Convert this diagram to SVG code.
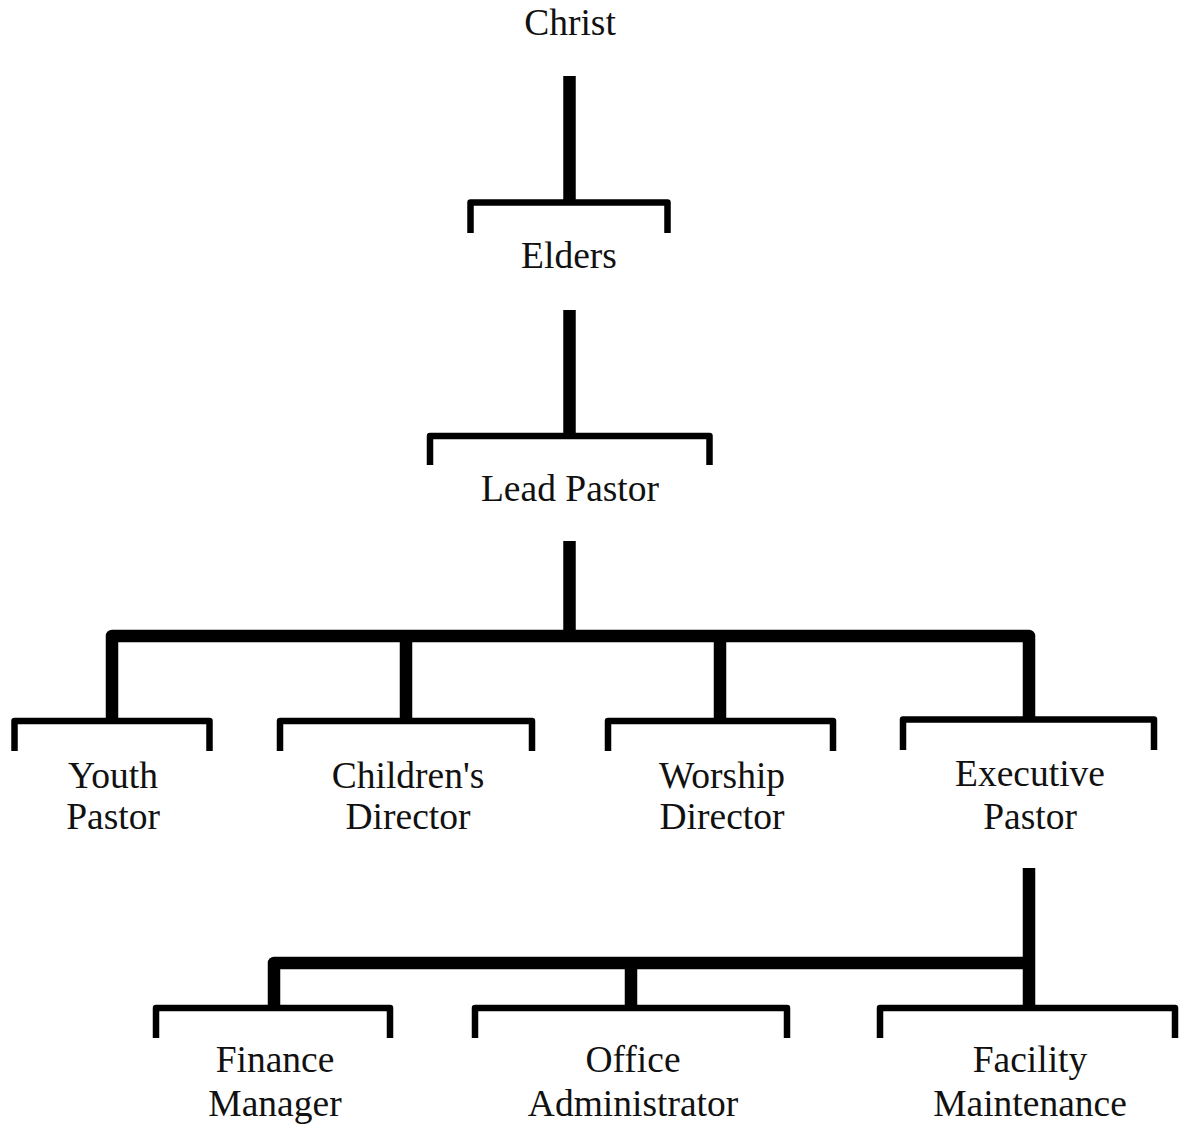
<svg xmlns="http://www.w3.org/2000/svg" width="1189" height="1126" viewBox="0 0 1189 1126">
<style>
.t{font-family:"Liberation Serif","Times New Roman",serif;font-size:37.5px;fill:#111;text-anchor:middle}
.stem{fill:none;stroke:#000;stroke-width:12.5;stroke-linejoin:round}
.br{fill:none;stroke:#000;stroke-width:6.5;stroke-linejoin:round}
</style>
<rect width="1189" height="1126" fill="#fff"/>
<g id="connectors">
<path class="stem" d="M569.5 76V203"/>
<path class="stem" d="M569.5 310V436"/>
<path class="stem" d="M569.5 541V636"/>
<path class="stem" d="M112 720V636H1029V720"/>
<path class="stem" d="M406 636V720"/>
<path class="stem" d="M720 636V720"/>
<path class="stem" d="M1029 868V1008"/>
<path class="stem" d="M274 1008V963H1029"/>
<path class="stem" d="M631 963V1008"/>
</g>
<g id="christ"><text class="t" x="570" y="34.5">Christ</text></g>
<g id="elders"><path class="br" d="M470.5 233V202.5H667.5V233"/><text class="t" x="569" y="268">Elders</text></g>
<g id="lead-pastor"><path class="br" d="M430 465V436H709.5V465"/><text class="t" x="570" y="501">Lead Pastor</text></g>
<g id="youth-pastor"><path class="br" d="M14.5 751V721H209.5V751"/><text class="t" x="113" y="788">Youth</text><text class="t" x="113" y="829">Pastor</text></g>
<g id="childrens-director"><path class="br" d="M280 751V721H532V751"/><text class="t" x="408" y="788">Children's</text><text class="t" x="408" y="829">Director</text></g>
<g id="worship-director"><path class="br" d="M608 751V721H833V751"/><text class="t" x="722" y="788">Worship</text><text class="t" x="722" y="829">Director</text></g>
<g id="executive-pastor"><path class="br" d="M903 750V719.5H1154V750"/><text class="t" x="1030" y="786">Executive</text><text class="t" x="1030" y="829">Pastor</text></g>
<g id="finance-manager"><path class="br" d="M156 1038V1008H390V1038"/><text class="t" x="275" y="1072">Finance</text><text class="t" x="275" y="1116">Manager</text></g>
<g id="office-administrator"><path class="br" d="M475 1038V1008H787V1038"/><text class="t" x="633" y="1072">Office</text><text class="t" x="633" y="1116">Administrator</text></g>
<g id="facility-maintenance"><path class="br" d="M880 1038V1008H1175V1038"/><text class="t" x="1030" y="1072">Facility</text><text class="t" x="1030" y="1116">Maintenance</text></g>
</svg>
